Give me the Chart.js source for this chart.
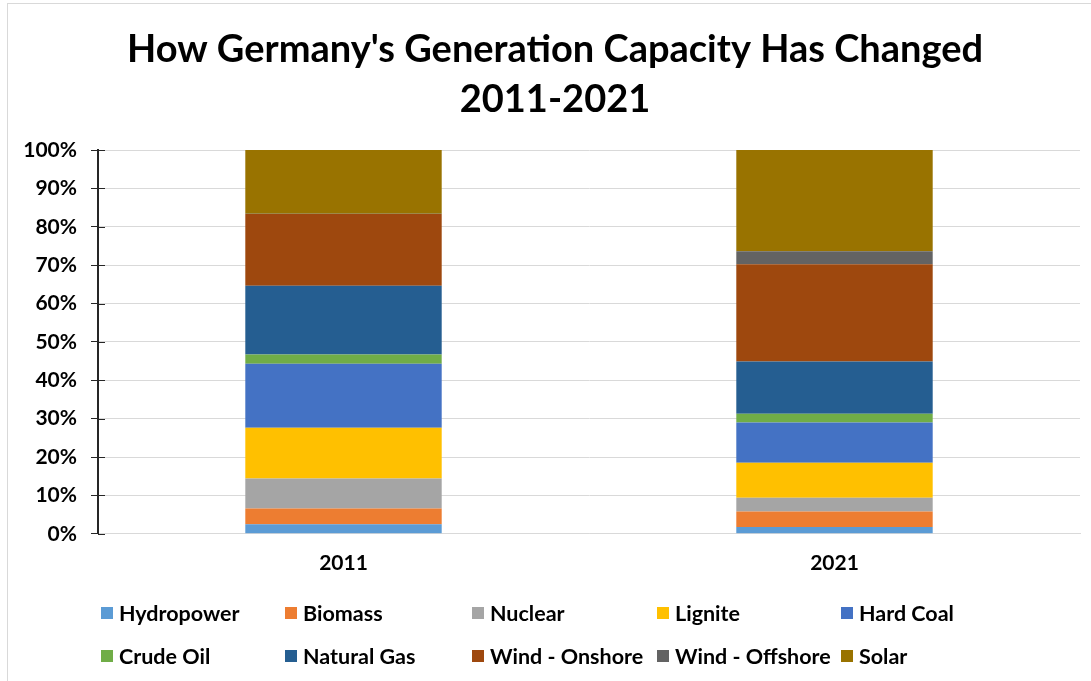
<!DOCTYPE html>
<html>
<head>
<meta charset="utf-8">
<script src="https://cdn.jsdelivr.net/npm/chart.js@4.4.1/dist/chart.umd.min.js"></script>
<style>
  html, body { margin: 0; padding: 0; background: #fff; }
  #page { position: relative; width: 1091px; height: 681px; overflow: hidden; font-family: 'Lato', sans-serif; }
  #frame { position: absolute; left: 7px; top: 3px; right: -2px; bottom: -2px; border-top: 1px solid #d9d9d9; border-left: 1px solid #d9d9d9; }
  #wrap { position: absolute; left: 8px; top: 4px; width: 1083px; height: 589px; }
  #legend { position: absolute; left: 0; top: 0; width: 1091px; height: 681px; pointer-events: none; }
  .item { position: absolute; display: flex; align-items: center; font-weight: bold; font-size: 21.5px; color: #000; white-space: nowrap; }
  .box { width: 12px; height: 12px; margin-right: 6px; }
</style>
</head>
<body>
<div id="page">
  <div id="frame"></div>
  <div id="wrap"><canvas id="chart"></canvas></div>
  <div id="legend"></div>
</div>
<script>
// categories and series (share of total capacity, %)
const years = ['2011', '2021'];
const sources = ['Hydropower', 'Biomass', 'Nuclear', 'Lignite', 'Hard Coal',
                 'Crude Oil', 'Natural Gas', 'Wind - Onshore', 'Wind - Offshore', 'Solar'];
const hydropower   = [2.5, 1.8];
const biomass      = [4.1, 4.0];
const nuclear      = [7.8, 3.6];
const lignite      = [13.2, 9.1];
const hardCoal     = [16.7, 10.5];
const crudeOil     = [2.4, 2.3];
const naturalGas   = [17.9, 13.6];
const windOnshore  = [18.7, 25.3];
const windOffshore = [0.1, 3.4];
const solar        = [16.6, 26.4];
const yTicks = [0, 10, 20, 30, 40, 50, 60, 70, 80, 90, 100];

const seriesValues = [hydropower, biomass, nuclear, lignite, hardCoal,
                      crudeOil, naturalGas, windOnshore, windOffshore, solar];
const colors = ['#5B9BD5', '#ED7D31', '#A5A5A5', '#FFC000', '#4472C4',
                '#70AD47', '#255E91', '#9E480E', '#636363', '#997300'];

// legend in Excel-style grid (5 columns x 2 rows)
const legendCols = [101, 285, 472, 657, 841];
const legendRows = [613, 656];
const legendEl = document.getElementById('legend');
sources.forEach((name, i) => {
    const div = document.createElement('div');
    div.className = 'item';
    div.style.left = legendCols[i % 5] + 'px';
    div.style.top = (legendRows[Math.floor(i / 5)] - 12) + 'px';
    div.style.height = '24px';
    div.innerHTML = `<span class="box" style="background:${colors[i]}"></span>${name}`;
    legendEl.appendChild(div);
});

// inner half of the y-axis tick marks (Excel "cross" ticks)
// + nudge the title box so it is centred like the original
const crossTicks = {
    id: 'crossTicks',
    afterLayout(chart) {
        if (chart.titleBlock) chart.titleBlock.left += 22;
    },
    afterDraw(chart) {
        const y = chart.scales.y;
        const ctx = chart.ctx;
        ctx.save();
        ctx.strokeStyle = '#262626';
        ctx.lineWidth = 1;
        yTicks.forEach(v => {
            const py = Math.round(y.getPixelForValue(v)) + 0.5;
            ctx.beginPath();
            ctx.moveTo(chart.chartArea.left, py);
            ctx.lineTo(chart.chartArea.left + 7, py);
            ctx.stroke();
        });
        ctx.restore();
    }
};

Chart.defaults.font.family = "'Lato', sans-serif";
Chart.defaults.color = '#000';

new Chart(document.getElementById('chart'), {
    type: 'bar',
    data: {
        labels: years,
        datasets: sources.map((name, i) => ({
            label: name,
            data: seriesValues[i],
            backgroundColor: colors[i],
            borderWidth: 0,
            categoryPercentage: 1,
            barPercentage: 0.4
        }))
    },
    options: {
        responsive: true,
        maintainAspectRatio: false,
        animation: false,
        layout: { padding: { left: 0, right: 11, top: 0, bottom: 0 } },
        plugins: {
            legend: { display: false },
            tooltip: { enabled: false },
            title: {
                display: true,
                text: ["How Germany's Generation Capacity Has Changed", '2011-2021'],
                font: { size: 38, weight: 'bold', lineHeight: 50 / 38 },
                color: '#000',
                padding: { top: 21, bottom: 25 }
            }
        },
        scales: {
            x: {
                stacked: true,
                grid: { display: false, drawTicks: false },
                border: { color: '#d9d9d9' },
                ticks: { font: { size: 21, weight: 'bold' }, padding: 17 }
            },
            y: {
                stacked: true,
                min: 0,
                max: 100,
                afterFit(scale) { scale.width = 90; },
                afterBuildTicks(scale) { scale.ticks = yTicks.map(v => ({ value: v })); },
                grid: { color: '#d9d9d9', tickColor: '#262626', tickLength: 7 },
                border: { color: '#262626', width: 2 },
                ticks: {
                    font: { size: 21, weight: 'bold' },
                    padding: 14,
                    callback: v => v + '%'
                }
            }
        }
    },
    plugins: [crossTicks]
});
</script>
</body>
</html>
